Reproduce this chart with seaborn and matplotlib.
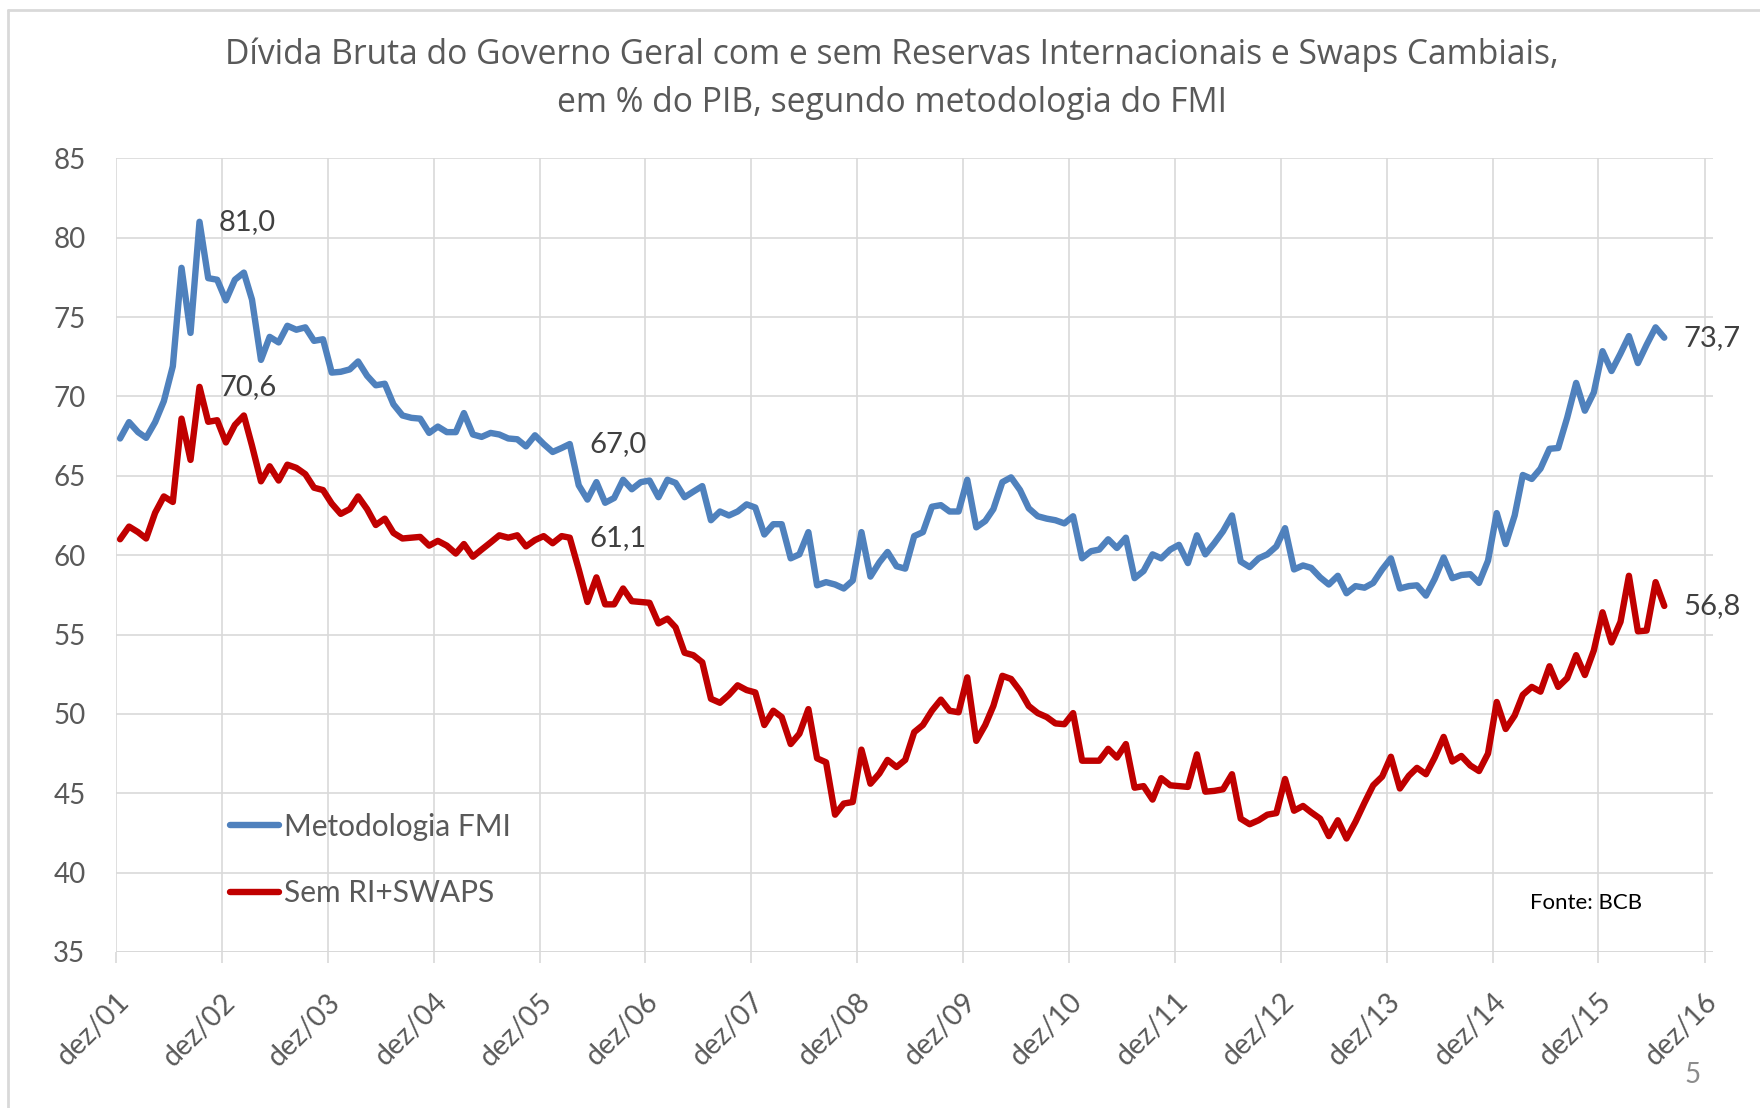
import pandas as pd
import numpy as np
import matplotlib
matplotlib.use("Agg")
import matplotlib.pyplot as plt
from matplotlib.lines import Line2D
from matplotlib.transforms import ScaledTranslation
import seaborn as sns

# meses: dez/01 .. jul/16 (ponto no meio do mes)
meses = pd.date_range("2001-12-01", periods=176, freq="MS") + pd.Timedelta(days=14)

fmi = [67.35, 68.38, 67.75, 67.39, 68.38, 69.7, 71.9, 78.1, 74.0, 81.0, 77.45, 77.35,
       76.05, 77.35, 77.8, 76.1, 72.3, 73.75, 73.4, 74.45, 74.2, 74.35, 73.5, 73.6,
       71.5, 71.55, 71.7, 72.2, 71.3, 70.7, 70.8, 69.5, 68.8, 68.65, 68.6, 67.7,
       68.1, 67.75, 67.75, 68.95, 67.6, 67.45, 67.7, 67.6, 67.35, 67.3, 66.85, 67.55,
       67.0, 66.5, 66.75, 67.0, 64.4, 63.5, 64.6, 63.3, 63.6, 64.75, 64.15, 64.6,
       64.7, 63.65, 64.75, 64.55, 63.65, 64.0, 64.35, 62.2, 62.75, 62.5, 62.75, 63.2,
       63.0, 61.3, 61.95, 61.95, 59.8, 60.05, 61.45, 58.1, 58.3, 58.15, 57.9, 58.4,
       61.45, 58.65, 59.55, 60.2, 59.3, 59.15, 61.2, 61.45, 63.05, 63.15, 62.75, 62.75,
       64.75, 61.75, 62.15, 62.9, 64.6, 64.9, 64.1, 62.95, 62.45, 62.3, 62.2, 62.0,
       62.45, 59.8, 60.25, 60.35, 61.0, 60.45, 61.1, 58.55, 59.0, 60.05, 59.8, 60.35,
       60.65, 59.5, 61.25, 60.05, 60.75, 61.5, 62.5, 59.6, 59.25, 59.8, 60.05, 60.55,
       61.7, 59.1, 59.35, 59.2, 58.6, 58.15, 58.7, 57.6, 58.05, 57.95, 58.25, 59.1,
       59.8, 57.9, 58.05, 58.1, 57.45, 58.5, 59.85, 58.55, 58.75, 58.8, 58.25, 59.65,
       62.65, 60.7, 62.5, 65.05, 64.8, 65.45, 66.7, 66.75, 68.65, 70.85, 69.1, 70.25,
       72.85, 71.6, 72.7, 73.8, 72.1, 73.25, 74.35, 73.7]

sem_ri = [61.0, 61.8, 61.45, 61.05, 62.67, 63.7, 63.35, 68.6, 66.0, 70.6, 68.4, 68.5,
          67.1, 68.2, 68.8, 66.9, 64.65, 65.6, 64.7, 65.7, 65.5, 65.1, 64.25, 64.1,
          63.25, 62.6, 62.9, 63.7, 62.9, 61.9, 62.3, 61.4, 61.05, 61.1, 61.15, 60.6,
          60.9, 60.6, 60.1, 60.7, 59.9, 60.35, 60.8, 61.25, 61.1, 61.25, 60.55, 60.95,
          61.2, 60.75, 61.2, 61.1, 59.1, 57.05, 58.6, 56.9, 56.9, 57.9, 57.1, 57.05,
          57.0, 55.7, 56.0, 55.45, 53.85, 53.7, 53.25, 50.95, 50.7, 51.2, 51.8, 51.5,
          51.35, 49.3, 50.2, 49.8, 48.1, 48.75, 50.3, 47.2, 46.95, 43.65, 44.35, 44.45,
          47.75, 45.6, 46.25, 47.1, 46.65, 47.1, 48.85, 49.3, 50.2, 50.9, 50.2, 50.1,
          52.3, 48.3, 49.3, 50.5, 52.4, 52.2, 51.45, 50.5, 50.05, 49.8, 49.4, 49.35,
          50.05, 47.05, 47.05, 47.05, 47.8, 47.25, 48.1, 45.35, 45.45, 44.6, 45.95, 45.5,
          45.45, 45.4, 47.45, 45.1, 45.15, 45.25, 46.2, 43.4, 43.05, 43.3, 43.65, 43.75,
          45.9, 43.9, 44.2, 43.8, 43.4, 42.3, 43.3, 42.15, 43.2, 44.4, 45.5, 46.05,
          47.3, 45.3, 46.1, 46.6, 46.2, 47.25, 48.55, 47.0, 47.35, 46.75, 46.4, 47.5,
          50.75, 49.05, 49.9, 51.2, 51.7, 51.4, 53.0, 51.7, 52.25, 53.7, 52.45, 54.0,
          56.4, 54.5, 55.8, 58.7, 55.2, 55.25, 58.3, 56.8]

series = ["Metodologia FMI", "Sem RI+SWAPS"]
cores = ["#4F81BD", "#C00000"]

# rotulos de dados: (indice do mes, serie, texto)
rotulos = [(9, 0, "81,0"), (9, 1, "70,6"), (51, 0, "67,0"), (51, 1, "61,1"),
           (175, 0, "73,7"), (175, 1, "56,8")]

anos = pd.date_range("2001-12-01", "2016-12-01", freq="12MS")
anos_lbl = ["dez/%02d" % (d.year % 100) for d in anos]

df = pd.DataFrame({"data": list(meses) * 2,
                   "valor": fmi + sem_ri,
                   "serie": [series[0]] * len(fmi) + [series[1]] * len(sem_ri)})

sns.set_theme(style="white")
plt.rcParams["font.family"] = ["Lato", "DejaVu Sans"]

fig = plt.figure(figsize=(17.6, 11.08), dpi=100)
ax = fig.add_axes([116 / 1760, 1 - 952 / 1108, (1713 - 116) / 1760, (952 - 158.3) / 1108])

sns.lineplot(data=df, x="data", y="valor", hue="serie", palette=cores,
             linewidth=4.6, ax=ax, legend=False)
for ln in ax.lines:
    ln.set_solid_joinstyle("round")
    ln.set_solid_capstyle("round")

ax.set_xlim(pd.Timestamp("2001-12-01"), pd.Timestamp("2016-12-30"))
ax.set_ylim(35, 85)
ax.set_yticks(range(35, 86, 5))
ax.set_xticks(anos)
ax.set_xticklabels(anos_lbl, rotation=45, ha="right", va="center", rotation_mode="anchor")
ax.set_xlabel("")
ax.set_ylabel("")

grid = "#D9D9D9"
ax.grid(True, color=grid, linewidth=1.2)
ax.set_axisbelow(True)
for s in ax.spines.values():
    s.set_visible(False)
ax.axhline(35, color=grid, linewidth=2, zorder=0.5)
ax.tick_params(axis="y", length=0, pad=22, labelsize=20, labelcolor="#595959")
ax.tick_params(axis="x", bottom=True, length=8, width=1.2, color=grid, direction="out",
               pad=25, labelsize=20.5, labelcolor="#595959")
desloc = ScaledTranslation(0.09, 0, fig.dpi_scale_trans)
for lbl in ax.get_xticklabels():
    lbl.set_transform(lbl.get_transform() + desloc)

for i, s, txt in rotulos:
    v = (fmi if s == 0 else sem_ri)[i]
    ax.annotate(txt, xy=(meses[i], v), xytext=(14, 0), textcoords="offset points",
                ha="left", va="center", fontsize=21, color="#404040")

handles = [Line2D([], [], color=c, linewidth=4.6, solid_capstyle="round") for c in cores]
fig.legend(handles, series, loc="center left", bbox_to_anchor=(230 / 1760, 1 - 860 / 1108),
           frameon=False, fontsize=21.5, handlelength=1.65, handletextpad=0.15,
           labelspacing=1.28, borderpad=0, borderaxespad=0, labelcolor="#595959")

fig.text(892 / 1760, 1 - 55 / 1108,
         "Dívida Bruta do Governo Geral com e sem Reservas Internacionais e Swaps Cambiais,",
         ha="center", va="center", fontsize=24.2, color="#595959", family="Open Sans")
fig.text(892 / 1760, 1 - 103 / 1108, "em % do PIB, segundo metodologia do FMI",
         ha="center", va="center", fontsize=24.2, color="#595959", family="Open Sans")
fig.text(1530 / 1760, 1 - 903 / 1108, "Fonte: BCB", ha="left", va="center",
         fontsize=16, color="black")
fig.text(1693 / 1760, 1 - 1075 / 1108, "5", ha="center", va="center",
         fontsize=20, color="#8C8C8C")

# moldura do slide
fig.add_artist(Line2D([8 / 1760, 8 / 1760], [0, 1 - 10 / 1108], transform=fig.transFigure,
                      color=grid, linewidth=2))
fig.add_artist(Line2D([8 / 1760, 1], [1 - 10 / 1108, 1 - 10 / 1108], transform=fig.transFigure,
                      color=grid, linewidth=2))

fig.savefig("out.png", dpi=100, facecolor="white")
